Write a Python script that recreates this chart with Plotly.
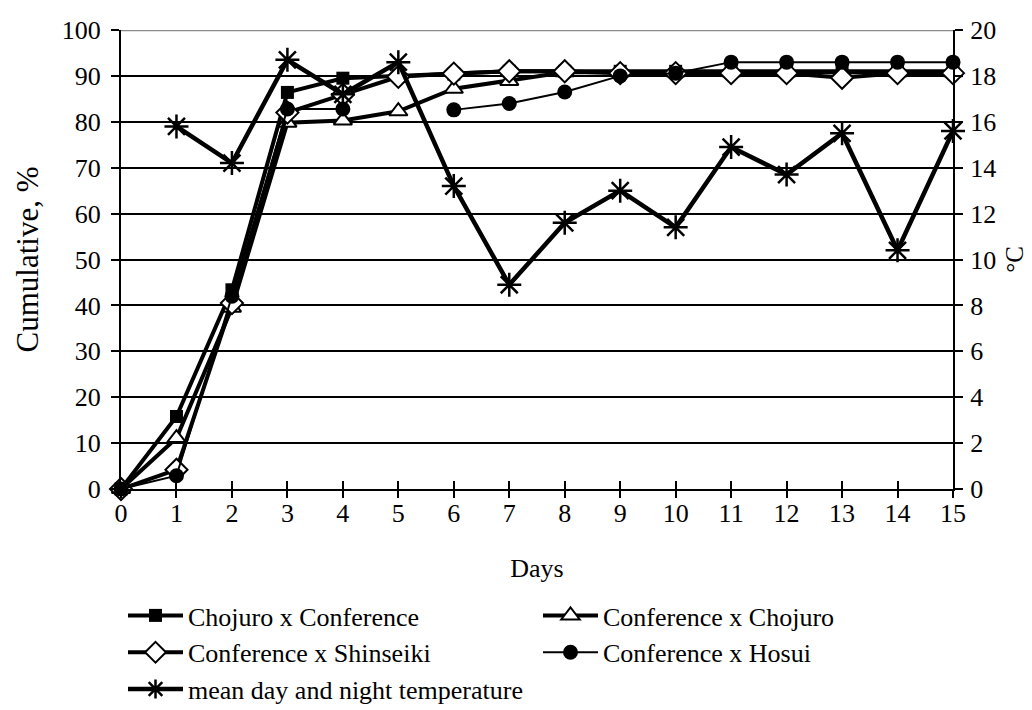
import plotly.graph_objects as go

days = list(range(16))
chojuro_conference = [0, 15.8, 43.4, 86.4, 89.5, 90.0, 90.4, 91.0, 91.0, 91.0, 91.0, 91.0, 91.0, 91.0, 91.0, 91.0]
conference_chojuro = [0, 11.1, 39.5, 79.8, 80.3, 82.3, 87.2, 88.9, 90.8, 90.8, 90.8, 90.8, 90.8, 90.8, 90.8, 90.8]
conference_shinseiki = [0, 4.2, 40.5, 82.0, 85.9, 89.8, 90.5, 91.0, 91.0, 90.6, 90.6, 90.6, 90.6, 89.6, 90.6, 90.6]
conference_hosui = [0, 2.9, 42.0, 82.8, 82.8, None, 82.6, 84.0, 86.5, 90.0, 90.6, 93.0, 93.0, 93.0, 93.0, 93.0]
temperature = [None, 15.8, 14.2, 18.7, 17.2, 18.6, 13.2, 8.9, 11.6, 13.0, 11.4, 14.9, 13.7, 15.5, 10.4, 15.6]

FONT = "Liberation Serif, Times New Roman, serif"
BLACK = "#000000"
TICK_SIZE = 26

fig = go.Figure()

fig.add_trace(go.Scatter(
    x=days, y=chojuro_conference, name="Chojuro x Conference", mode="lines+markers",
    line=dict(color=BLACK, width=4),
    marker=dict(symbol="square", size=13, color=BLACK, line=dict(width=0)),
    cliponaxis=False))
fig.add_trace(go.Scatter(
    x=days, y=conference_chojuro, name="Conference x Chojuro", mode="lines+markers",
    line=dict(color=BLACK, width=4),
    marker=dict(symbol="triangle-up", size=16, color="white", line=dict(color=BLACK, width=2)),
    cliponaxis=False))
fig.add_trace(go.Scatter(
    x=days, y=conference_shinseiki, name="Conference x Shinseiki", mode="lines+markers",
    line=dict(color=BLACK, width=4),
    marker=dict(symbol="diamond", size=17, color="white", line=dict(color=BLACK, width=2)),
    cliponaxis=False))
fig.add_trace(go.Scatter(
    x=days, y=conference_hosui, name="Conference x Hosui", mode="lines+markers",
    line=dict(color=BLACK, width=2), connectgaps=False,
    marker=dict(symbol="circle", size=15, color=BLACK, line=dict(width=0)),
    cliponaxis=False))
fig.add_trace(go.Scatter(
    x=days, y=temperature, name="mean day and night temperature", mode="lines+markers",
    xaxis="x2", yaxis="y2",
    line=dict(color=BLACK, width=4.5),
    marker=dict(symbol="asterisk-open", size=20, color=BLACK, line=dict(color=BLACK, width=2.5)),
    cliponaxis=False))

# gray top border of the plot area (over the 100 gridline, under the traces)
fig.add_shape(type="line", xref="x", yref="y", x0=0, x1=15, y0=100, y1=100,
              line=dict(color="#8c8c8c", width=2.5), layer="between")

fig.update_layout(
    width=1032, height=710,
    paper_bgcolor="white", plot_bgcolor="white",
    margin=dict(l=113, r=87, t=22, b=229, autoexpand=False),
    font=dict(family=FONT, size=25, color=BLACK),
    xaxis=dict(
        range=[0, 15], dtick=1, tick0=0,
        showgrid=False, zeroline=False,
        showline=True, linecolor=BLACK, linewidth=2,
        ticks="",
        tickfont=dict(family=FONT, size=TICK_SIZE),
        title=dict(text="Days", font=dict(family=FONT, size=26), standoff=32),
    ),
    xaxis2=dict(
        overlaying="x", anchor="y", side="bottom", range=[0, 15], dtick=1, tick0=0,
        showgrid=False, zeroline=False, showline=False, showticklabels=False,
        ticks="outside", ticklen=8, tickwidth=2, tickcolor=BLACK,
    ),
    xaxis3=dict(
        overlaying="x", anchor="y", side="bottom", range=[0, 15], dtick=1, tick0=0,
        showgrid=False, zeroline=False, showline=False, showticklabels=False,
        ticks="inside", ticklen=8, tickwidth=2, tickcolor=BLACK,
    ),
    yaxis=dict(
        range=[0, 100], dtick=10, tick0=0,
        showgrid=True, gridcolor=BLACK, gridwidth=2,
        zeroline=False,
        showline=True, linecolor=BLACK, linewidth=2,
        ticks="outside", ticklen=8, tickwidth=2, tickcolor=BLACK,
        ticklabelstandoff=5,
        tickfont=dict(family=FONT, size=TICK_SIZE),
        title=dict(text="Cumulative, %", font=dict(family=FONT, size=31), standoff=14),
    ),
    yaxis2=dict(
        range=[0, 20], dtick=2, tick0=0,
        overlaying="y", side="right", anchor="x2",
        showgrid=False, zeroline=False,
        showline=True, linecolor=BLACK, linewidth=2,
        ticks="outside", ticklen=8, tickwidth=2, tickcolor=BLACK,
        ticklabelstandoff=2,
        tickfont=dict(family=FONT, size=TICK_SIZE),
        title=dict(text="°C", font=dict(family=FONT, size=25), standoff=10),
    ),
    legend=dict(
        orientation="h",
        xref="container", yref="container",
        x=115 / 1032, y=1 - 584 / 710,
        xanchor="left", yanchor="top",
        entrywidth=345, entrywidthmode="pixels",
        itemwidth=55,
        font=dict(family=FONT, size=26, color=BLACK),
        bgcolor="rgba(0,0,0,0)", borderwidth=0,
        traceorder="normal",
    ),
    showlegend=True,
)

# make the inside-tick overlay axis exist (it carries no trace of its own)
fig.add_trace(go.Scatter(x=[days[0]], y=[None], xaxis="x3", yaxis="y",
                         showlegend=False, hoverinfo="skip", mode="lines"))

fig.write_html("out.html")
